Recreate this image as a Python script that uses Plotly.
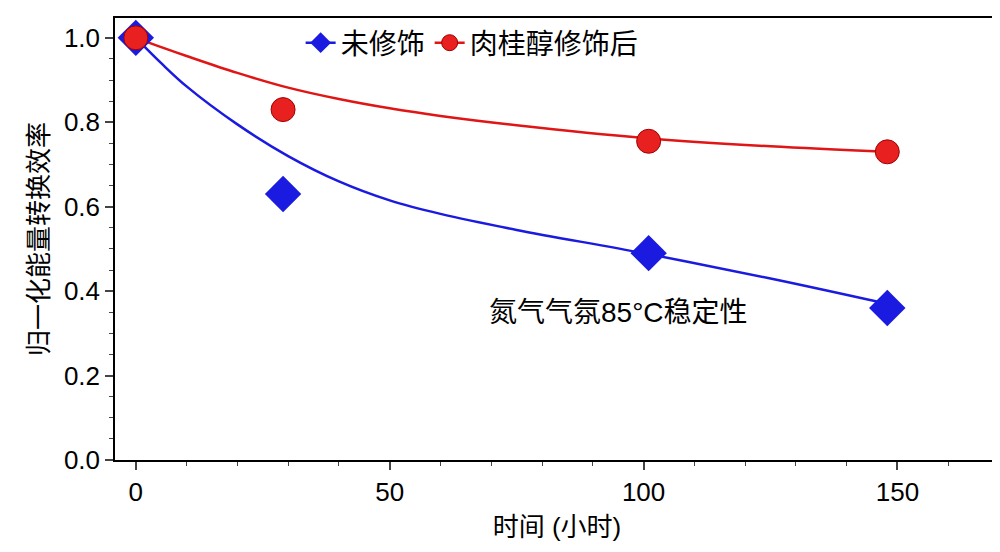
import plotly.graph_objects as go

time_pts = [0, 29, 101, 148]
unmod = [1.0, 0.63, 0.49, 0.36]
cinn = [1.0, 0.83, 0.755, 0.73]
fit_x = [0, 5, 10, 20, 30, 40, 50, 60, 75, 100, 125, 148]
fit_unmod = [1.0, 0.94, 0.885, 0.795, 0.72, 0.66, 0.615, 0.583, 0.545, 0.49, 0.43, 0.37]
fit_cinn = [1.0, 0.978, 0.957, 0.917, 0.882, 0.855, 0.833, 0.815, 0.793, 0.763, 0.743, 0.73]

font = "Liberation Sans, Noto Sans CJK SC"
blue, red = "#1a1ae0", "#e01515"
fig = go.Figure()
fig.add_trace(go.Scatter(x=fit_x, y=fit_unmod, mode="lines", line=dict(color=blue, width=2.5, shape="spline"), showlegend=False))
fig.add_trace(go.Scatter(x=fit_x, y=fit_cinn, mode="lines", line=dict(color=red, width=2.5, shape="spline"), showlegend=False))
fig.add_trace(go.Scatter(x=time_pts, y=unmod, mode="markers", showlegend=False,
                         marker=dict(symbol="diamond", size=28, color=blue)))
fig.add_trace(go.Scatter(x=time_pts, y=cinn, mode="markers", showlegend=False,
                         marker=dict(symbol="circle", size=24, color="#e82020", line=dict(color="#a00000", width=1))))
fig.add_trace(go.Scatter(x=[None], y=[None], mode="markers+lines", name="未修饰",
                         line=dict(color=blue, width=2.5), marker=dict(symbol="diamond", size=26, color=blue)))
fig.add_trace(go.Scatter(x=[None], y=[None], mode="markers+lines", name="肉桂醇修饰后",
                         line=dict(color=red, width=2.5), marker=dict(symbol="circle", size=22, color="#e82020", line=dict(color="#a00000", width=1))))
fig.add_annotation(x=0.57, y=0.295, xref="paper", yref="paper", text="氮气气氛85°C稳定性", showarrow=False,
                   font=dict(size=28, color="black", family=font))
axis = dict(showline=True, linecolor="black", linewidth=1.5, mirror=True, ticks="outside", ticklen=8, tickwidth=1.5,
            showgrid=False, zeroline=False, tickfont=dict(size=26, color="black", family=font),
            minor=dict(ticks="outside", ticklen=4, tickwidth=1.2))
fig.update_layout(
    width=1000, height=552, plot_bgcolor="white", paper_bgcolor="white",
    margin=dict(l=107, r=7, t=10, b=100),
    xaxis=dict(axis, range=[-4.1, 170], tickvals=[0, 50, 100, 150],
               title=dict(text="时间 (小时)", font=dict(size=26, color="black", family=font), standoff=12)),
    yaxis=dict(axis, range=[0, 1.047], tickvals=[0, 0.2, 0.4, 0.6, 0.8, 1.0], tickformat=".1f",
               title=dict(text="归一化能量转换效率", font=dict(size=26, color="black", family=font), standoff=8)),
    legend=dict(orientation="h", x=0.21, y=1.0, yanchor="top", font=dict(size=28, color="black", family=font),
                bgcolor="rgba(0,0,0,0)"),
)
fig.write_html("out.html")
